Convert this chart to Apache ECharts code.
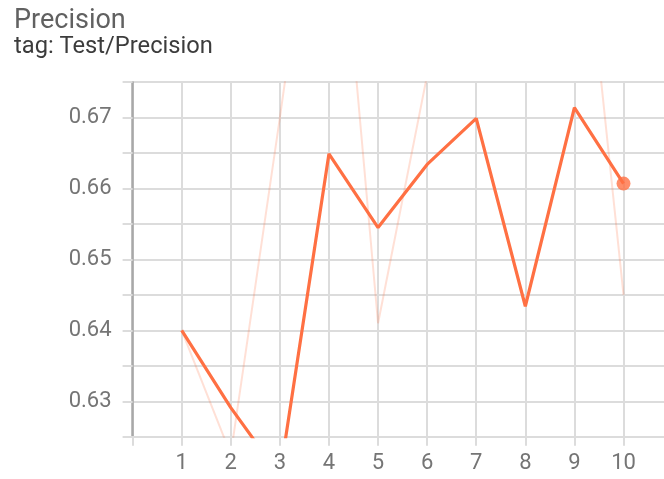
<!DOCTYPE html>
<html>
<head>
<meta charset="utf-8">
<script src="https://cdn.jsdelivr.net/npm/echarts@6/dist/echarts.min.js"></script>
<style>
  html, body { margin: 0; padding: 0; background: #fff; overflow: hidden; }
  #chart { width: 664px; height: 479px; }
</style>
</head>
<body>
<div id="chart"></div>
<script>
// Training steps and the Test/Precision scalar at each step
const steps = [1, 2, 3, 4, 5, 6, 7, 8, 9, 10];
// Smoothed curve (bold line)
const smoothed = [0.6400, 0.6291, 0.6195, 0.6649, 0.6545, 0.6634, 0.6699, 0.6434, 0.6714, 0.6607];
// Raw logged values (faint line)
const raw = [0.6400, 0.6225, 0.6700, 0.7190, 0.6410, 0.6760, 0.6900, 0.6850, 0.7112, 0.6450];
// Labelled y ticks
const yTickLabels = [0.63, 0.64, 0.65, 0.66, 0.67];

const chart = echarts.init(document.getElementById('chart'), null, {
  renderer: 'canvas', width: 664, height: 479
});

const GRID_COLOR = '#dcdcdc';
const AXIS_COLOR = '#a8a8a8';
const LABEL_COLOR = '#757575';
const LINE_COLOR = '#ff7043';
const FONT = 'Roboto';

const rawPairs = steps.map((s, i) => [s, raw[i]]);
const smoothPairs = steps.map((s, i) => [s, smoothed[i]]);
const lastIdx = steps.length - 1;

chart.setOption({
  animation: false,
  title: {
    text: 'Precision',
    subtext: 'tag: Test/Precision',
    left: 9,
    top: 3,
    itemGap: 0,
    textStyle: { fontFamily: FONT, fontSize: 27, fontWeight: 'normal', color: '#616161' },
    subtextStyle: { fontFamily: FONT, fontSize: 23.7, color: '#3c3c3c' }
  },
  // the plot runs past the right edge of the card, so step 11 sits off-canvas
  grid: {
    left: 132.6, right: -8.6, top: 82.2, bottom: 479 - 436.7,
    containLabel: false, outerBoundsMode: 'none'
  },
  xAxis: {
    type: 'value',
    min: 0,
    max: 11,
    interval: 1,
    axisLine: { show: true, lineStyle: { color: GRID_COLOR, width: 2 } },
    axisTick: { show: true, length: 9, lineStyle: { color: GRID_COLOR, width: 2 } },
    splitLine: { show: true, lineStyle: { color: GRID_COLOR, width: 2 } },
    axisLabel: {
      margin: 16,
      fontFamily: FONT,
      fontSize: 22,
      color: LABEL_COLOR,
      formatter: v => (steps.indexOf(v) >= 0 ? String(v) : '')
    }
  },
  yAxis: {
    type: 'value',
    min: 0.625,
    max: 0.675,
    interval: 0.005,
    axisLine: { show: true, lineStyle: { color: AXIS_COLOR, width: 2.5 } },
    axisTick: { show: true, length: 10, lineStyle: { color: GRID_COLOR, width: 2 } },
    splitLine: { show: true, lineStyle: { color: GRID_COLOR, width: 2 } },
    axisLabel: {
      margin: 21,
      fontFamily: FONT,
      fontSize: 22,
      color: LABEL_COLOR,
      formatter: v => {
        const hit = yTickLabels.find(t => Math.abs(t - v) < 1e-6);
        return hit !== undefined ? hit.toFixed(2) : '';
      }
    }
  },
  series: [
    {
      name: 'raw',
      type: 'line',
      data: rawPairs,
      showSymbol: false,
      clip: true,
      lineStyle: { color: LINE_COLOR, width: 2, opacity: 0.22 },
      z: 2
    },
    {
      name: 'smoothed',
      type: 'line',
      data: smoothPairs,
      showSymbol: false,
      clip: true,
      lineStyle: { color: LINE_COLOR, width: 3.2 },
      z: 3
    },
    {
      name: 'latest',
      type: 'scatter',
      data: [[steps[lastIdx], smoothed[lastIdx]]],
      symbol: 'circle',
      symbolSize: 14,
      itemStyle: { color: LINE_COLOR },
      z: 4
    }
  ]
});
</script>
</body>
</html>
